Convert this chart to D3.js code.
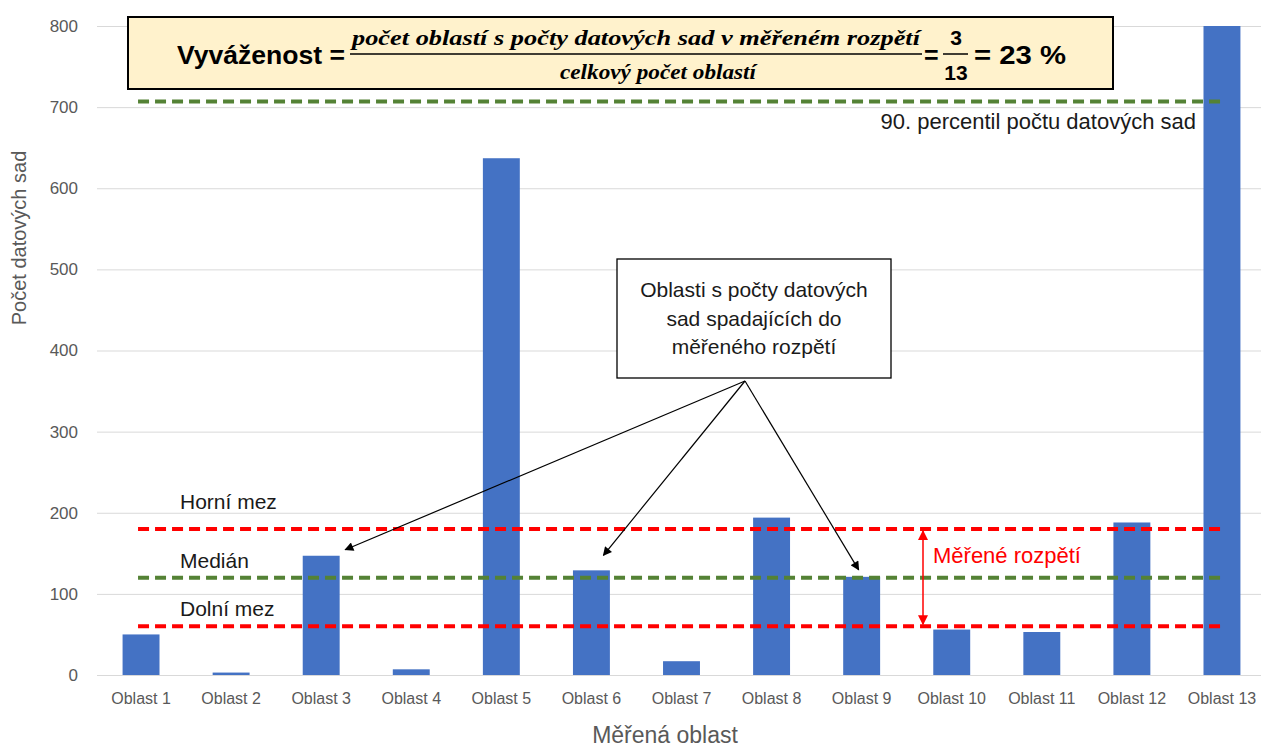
<!DOCTYPE html>
<html>
<head>
<meta charset="utf-8">
<script src="https://cdn.jsdelivr.net/npm/d3@7"></script>
<style>
    body { margin: 0; background: #fff; }
    svg { display: block; }
</style>
</head>
<body>
<div id="canvas"></div>
<script>
"use strict"

/* data */
let categories = ["Oblast 1", "Oblast 2", "Oblast 3", "Oblast 4", "Oblast 5", "Oblast 6", "Oblast 7",
    "Oblast 8", "Oblast 9", "Oblast 10", "Oblast 11", "Oblast 12", "Oblast 13"]
let counts = [50, 3, 147, 7, 637, 129, 17, 194, 121, 56, 53, 188, 800]
let yTicks = [0, 100, 200, 300, 400, 500, 600, 700, 800]
let lowerLimit = 60
let medianValue = 120
let upperLimit = 180
let percentile90 = 707
/* regions the arrows point at */
let pointedRegions = ["Oblast 3", "Oblast 6", "Oblast 9"]
let pointedValues = [147, 129, 121]

let svgWidth = 1261
let svgHeight = 747
let textFont = "'Liberation Sans', Arial, sans-serif"

let svg = d3.select("#canvas")
    .append("svg")
    .attr("width", svgWidth)
    .attr("height", svgHeight)

let defs = svg.append("defs")
/* black arrow head */
defs.append("marker")
    .attr("id", "arrowBlack")
    .attr("viewBox", "0 0 10 10")
    .attr("refX", 9).attr("refY", 5)
    .attr("markerWidth", 13).attr("markerHeight", 9)
    .attr("markerUnits", "userSpaceOnUse")
    .attr("orient", "auto")
    .append("path")
    .attr("d", "M0,0 L10,5 L0,10 Z")
    .attr("fill", "black")
/* red arrow heads for the range */
defs.append("marker")
    .attr("id", "arrowRed")
    .attr("viewBox", "0 0 10 10")
    .attr("refX", 9).attr("refY", 5)
    .attr("markerWidth", 12).attr("markerHeight", 10)
    .attr("markerUnits", "userSpaceOnUse")
    .attr("orient", "auto-start-reverse")
    .append("path")
    .attr("d", "M0,0 L10,5 L0,10 Z")
    .attr("fill", "red")

/* scales */
let xScale = d3.scaleBand()
    .domain(categories)
    .range([96, 1267])
    .paddingInner(0.59)
    .paddingOuter(0.295)

let yScale = d3.scaleLinear()
    .domain([0, 800])
    .range([675, 26])

let bw = xScale.bandwidth()
let firstCenter = xScale(categories[0]) + bw / 2
let lastCenter = xScale(categories[categories.length - 1]) + bw / 2

/* grid lines + y tick labels */
let yAxis = svg.append("g")
    .attr("transform", "translate(97,0)")
    .call(d3.axisLeft(yScale).tickValues(yTicks).tickSize(-1164).tickPadding(19))
yAxis.select(".domain").remove()
yAxis.selectAll(".tick line").attr("stroke", "#d9d9d9").attr("stroke-width", 1)
yAxis.selectAll(".tick text")
    .attr("fill", "#595959")
    .style("font-size", "17px")
    .style("font-family", textFont)

/* bars */
svg.selectAll("rect.bar")
    .data(counts)
    .join("rect")
    .classed("bar", true)
    .attr("x", (d, i) => xScale(categories[i]))
    .attr("y", d => yScale(d))
    .attr("width", bw)
    .attr("height", d => yScale(0) - yScale(d))
    .attr("fill", "#4472c4")

/* x tick labels */
let xAxis = svg.append("g")
    .attr("transform", `translate(0,${yScale(0)})`)
    .call(d3.axisBottom(xScale).tickSize(0).tickPadding(18))
xAxis.select(".domain").remove()
xAxis.selectAll(".tick text")
    .attr("fill", "#595959")
    .style("font-size", "16px")
    .style("font-family", textFont)

/* axis titles */
svg.append("text")
    .attr("x", 665)
    .attr("y", 743)
    .attr("text-anchor", "middle")
    .attr("fill", "#595959")
    .style("font-size", "23px")
    .style("font-family", textFont)
    .text("Měřená oblast")

svg.append("text")
    .attr("transform", `translate(26,${238}) rotate(-90)`)
    .attr("text-anchor", "middle")
    .attr("fill", "#595959")
    .style("font-size", "20px")
    .style("font-family", textFont)
    .text("Počet datových sad")

/* dashed reference lines */
function refLine(value, color, x2) {
    svg.append("line")
        .attr("x1", firstCenter - 3)
        .attr("x2", x2)
        .attr("y1", yScale(value))
        .attr("y2", yScale(value))
        .attr("stroke", color)
        .attr("stroke-width", 4)
        .attr("stroke-dasharray", "11,6")
}
refLine(upperLimit, "#ff0000", lastCenter)
refLine(medianValue, "#548235", lastCenter)
refLine(lowerLimit, "#ff0000", lastCenter)
refLine(percentile90, "#548235", lastCenter)

/* labels on the reference lines */
let refLabels = [["Horní mez", upperLimit, -20], ["Medián", medianValue, -10], ["Dolní mez", lowerLimit, -10]]
refLabels.forEach(function (r) {
    svg.append("text")
        .attr("x", 180)
        .attr("y", yScale(r[1]) + r[2])
        .attr("fill", "#1a1a1a")
        .style("font-size", "21px")
        .style("font-family", textFont)
        .text(r[0])
})

svg.append("text")
    .attr("x", 1196)
    .attr("y", yScale(percentile90) + 28)
    .attr("text-anchor", "end")
    .attr("fill", "#1a1a1a")
    .style("font-size", "22px")
    .style("font-family", textFont)
    .text("90. percentil počtu datových sad")

/* measured range arrow */
svg.append("line")
    .attr("x1", 923)
    .attr("x2", 923)
    .attr("y1", yScale(upperLimit) + 2)
    .attr("y2", yScale(lowerLimit) - 2)
    .attr("stroke", "red")
    .attr("stroke-width", 1.5)
    .attr("marker-start", "url(#arrowRed)")
    .attr("marker-end", "url(#arrowRed)")

svg.append("text")
    .attr("x", 933)
    .attr("y", 563)
    .attr("fill", "red")
    .style("font-size", "22px")
    .style("font-family", textFont)
    .text("Měřené rozpětí")

/* callout box */
svg.append("rect")
    .attr("x", 617)
    .attr("y", 259)
    .attr("width", 274)
    .attr("height", 119)
    .attr("fill", "white")
    .attr("stroke", "black")
    .attr("stroke-width", 1.3)

let calloutLines = ["Oblasti s počty datových", "sad spadajících do", "měřeného rozpětí"]
calloutLines.forEach(function (t, i) {
    svg.append("text")
        .attr("x", 754)
        .attr("y", 297 + i * 28.5)
        .attr("text-anchor", "middle")
        .attr("fill", "#1a1a1a")
        .style("font-size", "21px")
        .style("font-family", textFont)
        .text(t)
})

/* arrows from the callout to the bars */
let arrowTips = [[24, -6], [12, -15], [-3, -7]]
pointedRegions.forEach(function (c, i) {
    svg.append("line")
        .attr("x1", 745)
        .attr("y1", 381)
        .attr("x2", xScale(c) + bw / 2 + arrowTips[i][0])
        .attr("y2", yScale(pointedValues[i]) + arrowTips[i][1])
        .attr("stroke", "black")
        .attr("stroke-width", 1.2)
        .attr("marker-end", "url(#arrowBlack)")
})

/* formula box */
svg.append("rect")
    .attr("x", 128)
    .attr("y", 17)
    .attr("width", 985)
    .attr("height", 72)
    .attr("fill", "#fff2cc")
    .attr("stroke", "black")
    .attr("stroke-width", 2)

let formulaFont = "'Liberation Serif', 'DejaVu Serif', serif"
svg.append("text")
    .attr("x", 177)
    .attr("y", 64)
    .attr("textLength", 168)
    .attr("lengthAdjust", "spacingAndGlyphs")
    .style("font-size", "25px")
    .style("font-weight", "bold")
    .style("font-family", textFont)
    .text("Vyváženost =")

svg.append("text")
    .attr("x", 352)
    .attr("y", 45)
    .attr("textLength", 568)
    .attr("lengthAdjust", "spacingAndGlyphs")
    .style("font-size", "21px")
    .style("font-weight", "bold")
    .style("font-style", "italic")
    .style("font-family", formulaFont)
    .text("počet oblastí s počty datových sad  v měřeném rozpětí")

svg.append("line")
    .attr("x1", 350).attr("x2", 922)
    .attr("y1", 54).attr("y2", 54)
    .attr("stroke", "black").attr("stroke-width", 1.5)

svg.append("text")
    .attr("x", 560)
    .attr("y", 79)
    .attr("textLength", 196)
    .attr("lengthAdjust", "spacingAndGlyphs")
    .style("font-size", "21px")
    .style("font-weight", "bold")
    .style("font-style", "italic")
    .style("font-family", formulaFont)
    .text("celkový počet oblastí")

svg.append("text")
    .attr("x", 924)
    .attr("y", 64)
    .style("font-size", "25px")
    .style("font-weight", "bold")
    .style("font-family", textFont)
    .text("=")

svg.append("text")
    .attr("x", 956)
    .attr("y", 45)
    .attr("text-anchor", "middle")
    .style("font-size", "21px")
    .style("font-weight", "bold")
    .style("font-family", textFont)
    .text("3")

svg.append("line")
    .attr("x1", 943).attr("x2", 968)
    .attr("y1", 54).attr("y2", 54)
    .attr("stroke", "black").attr("stroke-width", 1.5)

svg.append("text")
    .attr("x", 956)
    .attr("y", 80)
    .attr("text-anchor", "middle")
    .style("font-size", "21px")
    .style("font-weight", "bold")
    .style("font-family", textFont)
    .text("13")

svg.append("text")
    .attr("x", 974)
    .attr("y", 64)
    .attr("textLength", 92)
    .attr("lengthAdjust", "spacingAndGlyphs")
    .style("font-size", "25px")
    .style("font-weight", "bold")
    .style("font-family", textFont)
    .text("= 23 %")
</script>
</body>
</html>
